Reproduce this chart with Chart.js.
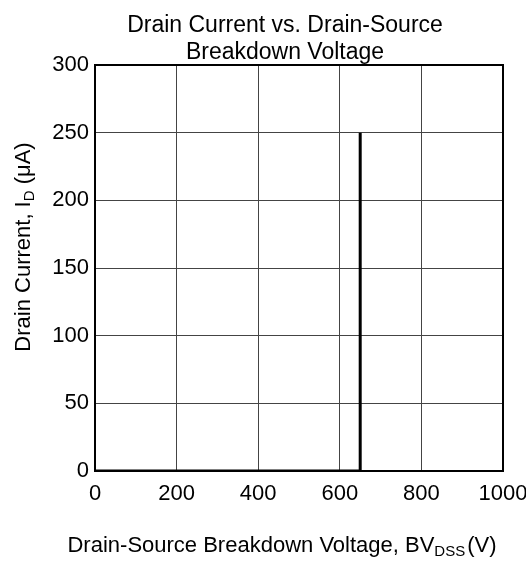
<!DOCTYPE html>
<html>
<head>
<meta charset="utf-8">
<script src="https://cdn.jsdelivr.net/npm/chart.js@4.4.1/dist/chart.umd.min.js"></script>
<style>
  html, body { margin: 0; padding: 0; background: #fff; }
  #wrap { width: 526px; height: 561px; }
</style>
</head>
<body>
<div id="wrap"><canvas id="bv-chart" width="526" height="561"></canvas></div>
<script>
// breakdown curve
const voltage = [0, 650, 650];      // V
const current = [0, 0, 250];        // uA
const xTickValues = [0, 200, 400, 600, 800, 1000];
const yTickValues = [0, 50, 100, 150, 200, 250, 300];
const titleLines = ['Drain Current vs. Drain-Source', 'Breakdown Voltage'];

const FONT = "'Liberation Sans', Arial, Helvetica, sans-serif";
Chart.defaults.font.family = FONT;
Chart.defaults.color = '#000';

// draws text made of normal + subscript pieces, centred on x
function drawPieces(ctx, pieces, x, y, size) {
    const subSize = Math.round(size * 0.68);
    let total = 0;
    pieces.forEach(p => {
        ctx.font = `${p.sub ? subSize : size}px ${FONT}`;
        p.w = ctx.measureText(p.t).width + (p.gap || 0);
        total += p.w;
    });
    let cx = x - total / 2;
    pieces.forEach(p => {
        ctx.font = `${p.sub ? subSize : size}px ${FONT}`;
        ctx.fillText(p.t, cx + (p.gap || 0), p.sub ? y + 4 : y);
        cx += p.w;
    });
}

const frameAndTitles = {
    id: 'frameAndTitles',
    afterDraw(chart) {
        const ctx = chart.ctx;
        const a = chart.chartArea;
        ctx.save();
        // plot frame
        ctx.strokeStyle = '#000';
        ctx.lineWidth = 2;
        ctx.strokeRect(a.left, a.top, a.right - a.left, a.bottom - a.top);

        ctx.fillStyle = '#000';
        ctx.textBaseline = 'alphabetic';

        // chart title, sits a bit left of the plot centre like the original
        ctx.textAlign = 'center';
        ctx.font = `23px ${FONT}`;
        ctx.fillText(titleLines[0], 285, 32);
        ctx.fillText(titleLines[1], 285, 59);

        ctx.textAlign = 'left';
        // x axis title
        drawPieces(ctx, [
            { t: 'Drain-Source Breakdown Voltage, BV' },
            { t: 'DSS', sub: true },
            { t: '(V)', gap: 2 }
        ], 282, 552, 22);

        // y axis title, rotated
        ctx.translate(30, 247);
        ctx.rotate(-Math.PI / 2);
        drawPieces(ctx, [
            { t: 'Drain Current, I' },
            { t: 'D', sub: true },
            { t: ' (\u03bcA)' }
        ], 0, 0, 22);
        ctx.restore();
    }
};

const points = voltage.map((v, i) => ({ x: v, y: current[i] }));

new Chart(document.getElementById('bv-chart'), {
    type: 'line',
    data: {
        datasets: [{
            data: points,
            borderColor: '#000',
            borderWidth: 3,
            pointRadius: 0,
            tension: 0,
            fill: false
        }]
    },
    options: {
        responsive: false,
        animation: false,
        devicePixelRatio: 1,
        layout: { padding: { left: 0, right: 23, top: 65, bottom: 0 } },
        plugins: {
            legend: { display: false },
            tooltip: { enabled: false },
            title: { display: false }
        },
        scales: {
            x: {
                type: 'linear',
                min: 0,
                max: 1000,
                afterBuildTicks: s => { s.ticks = xTickValues.map(v => ({ value: v })); },
                afterFit: s => { s.height = 90; s.paddingLeft = 0; s.paddingRight = 0; },
                ticks: { font: { size: 22 }, padding: 10, maxRotation: 0, color: '#000',
                         callback: v => String(v) },
                grid: { color: '#444', lineWidth: 1, drawTicks: false },
                border: { display: false }
            },
            y: {
                type: 'linear',
                min: 0,
                max: 300,
                afterBuildTicks: s => { s.ticks = yTickValues.map(v => ({ value: v })); },
                afterFit: s => { s.width = 95; s.paddingTop = 0; s.paddingBottom = 0; },
                ticks: { font: { size: 22 }, padding: 6, color: '#000',
                         callback: v => String(v) },
                grid: { color: '#444', lineWidth: 1, drawTicks: false },
                border: { display: false }
            }
        }
    },
    plugins: [frameAndTitles]
});
</script>
</body>
</html>
